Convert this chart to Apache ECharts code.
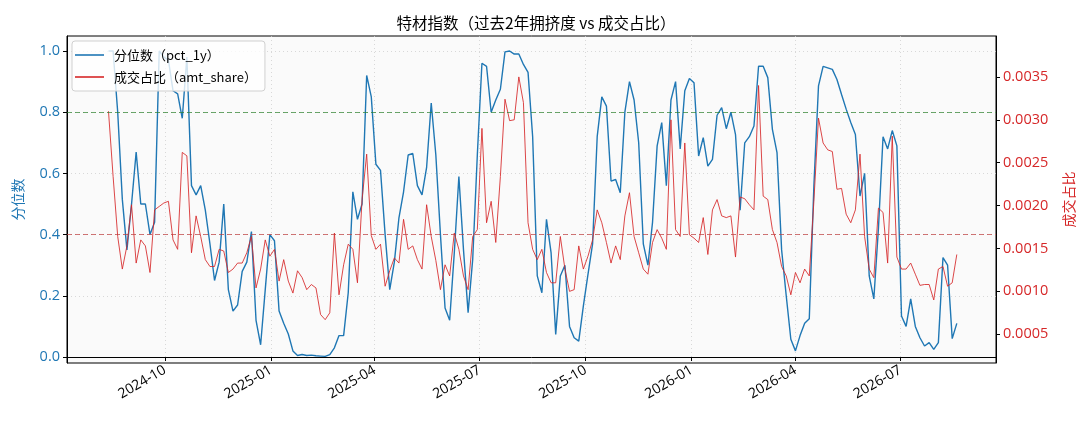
<!DOCTYPE html>
<html>
<head>
<meta charset="utf-8">
<title>特材指数</title>
<script src="https://cdn.jsdelivr.net/npm/echarts@6/dist/echarts.min.js"></script>
<style>
  html, body { margin: 0; padding: 0; background: #fff; }
  #chart { width: 1089px; height: 429px; }
</style>
</head>
<body>
<div id="chart"></div>
<script>
// 采样起点与步长（天）
const startDate = "2024-08-13";
const stepDays = 4;

// 分位数（pct_1y）
const pct1y = [
  1.0, 1.0, 0.80, 0.515, 0.35, 0.50, 0.67, 0.50, 0.50, 0.40,
  0.44, 1.0, 0.98, 0.97, 0.87, 0.86, 0.78, 0.98, 0.56, 0.53,
  0.56, 0.48, 0.37, 0.25, 0.31, 0.50, 0.22, 0.15, 0.17, 0.28,
  0.31, 0.41, 0.12, 0.04, 0.22, 0.40, 0.38, 0.15, 0.11, 0.075,
  0.02, 0.005, 0.008, 0.005, 0.006, 0.004, 0.003, 0.002, 0.008, 0.03,
  0.07, 0.07, 0.21, 0.54, 0.45, 0.50, 0.92, 0.85, 0.63, 0.61,
  0.40, 0.22, 0.31, 0.455, 0.54, 0.66, 0.665, 0.56, 0.53, 0.62,
  0.83, 0.66, 0.40, 0.16, 0.12, 0.34, 0.59, 0.35, 0.145, 0.32,
  0.66, 0.96, 0.95, 0.80, 0.84, 0.875, 0.997, 1.0, 0.99, 0.99,
  0.956, 0.93, 0.72, 0.265, 0.21, 0.45, 0.34, 0.074, 0.265, 0.30,
  0.10, 0.063, 0.052, 0.167, 0.27, 0.37, 0.72, 0.85, 0.82, 0.575,
  0.58, 0.537, 0.80, 0.90, 0.84, 0.70, 0.37, 0.30, 0.44, 0.69,
  0.766, 0.56, 0.84, 0.90, 0.68, 0.87, 0.91, 0.896, 0.657, 0.717,
  0.624, 0.646, 0.79, 0.815, 0.746, 0.80, 0.727, 0.48, 0.70, 0.72,
  0.755, 0.95, 0.95, 0.913, 0.744, 0.668, 0.35, 0.20, 0.058, 0.02,
  0.07, 0.11, 0.125, 0.56, 0.886, 0.95, 0.945, 0.94, 0.907, 0.858,
  0.81, 0.766, 0.727, 0.526, 0.60, 0.265, 0.19, 0.42, 0.72, 0.68,
  0.74, 0.69, 0.134, 0.10, 0.19, 0.10, 0.063, 0.036, 0.047, 0.025,
  0.047, 0.325, 0.30, 0.06, 0.11
];

// 成交占比（amt_share）
const amtShare = [
  0.0031, 0.00234, 0.00164, 0.00126, 0.00153, 0.00201, 0.00133, 0.0016, 0.00153, 0.00122,
  0.00195, 0.00199, 0.00203, 0.00205, 0.0016, 0.00149, 0.00262, 0.00258, 0.00145, 0.00188,
  0.00164, 0.00137, 0.00129, 0.00129, 0.00149, 0.00147, 0.00122, 0.00126, 0.00133, 0.00133,
  0.00145, 0.00164, 0.00104, 0.00126, 0.0016, 0.00141, 0.00149, 0.00112, 0.00137, 0.00112,
  0.00098, 0.00124, 0.00116, 0.00102, 0.00108, 0.00104, 0.00073, 0.00067, 0.00075, 0.00168,
  0.00096, 0.00131, 0.00155, 0.00149, 0.0011, 0.00207, 0.0026, 0.00165, 0.00149, 0.00155,
  0.00106, 0.00124, 0.00139, 0.00133, 0.00184, 0.00149, 0.00153, 0.00137, 0.00126, 0.00201,
  0.00164, 0.00136, 0.00102, 0.00131, 0.00118, 0.00168, 0.00149, 0.00118, 0.00102, 0.00164,
  0.00172, 0.0029, 0.0018, 0.00205, 0.00157, 0.00234, 0.00324, 0.00299, 0.003, 0.0035,
  0.0032, 0.0018, 0.00149, 0.00137, 0.00149, 0.00122, 0.0011, 0.0011, 0.00164, 0.00126,
  0.001, 0.00102, 0.00153, 0.00126, 0.00141, 0.0016, 0.00195, 0.0018, 0.00157, 0.00133,
  0.00153, 0.00137, 0.00188, 0.00215, 0.00164, 0.00145, 0.00126, 0.0012, 0.00157, 0.00172,
  0.00162, 0.00149, 0.003, 0.00172, 0.00164, 0.00273, 0.00166, 0.00162, 0.00157, 0.00186,
  0.00143, 0.00195, 0.00207, 0.00188, 0.00186, 0.00188, 0.0014, 0.0021, 0.00208, 0.00201,
  0.00195, 0.0034, 0.00211, 0.00207, 0.00172, 0.00157, 0.00129, 0.00118, 0.00096, 0.00122,
  0.0011, 0.00126, 0.00118, 0.00205, 0.00302, 0.00273, 0.00265, 0.00263, 0.00219, 0.0022,
  0.0019, 0.0018, 0.00195, 0.0026, 0.00164, 0.00126, 0.00116, 0.00197, 0.00192, 0.00133,
  0.00281, 0.0014, 0.00126, 0.00126, 0.00133, 0.0012, 0.00107, 0.00108, 0.00108, 0.0009,
  0.00126, 0.00129, 0.00106, 0.0011, 0.00143
];

// 刻度
const xTicks = ["2024-10-01", "2025-01-01", "2025-04-01", "2025-07-01", "2025-10-01", "2026-01-01", "2026-04-01", "2026-07-01"];
const leftTicks = [0.0, 0.2, 0.4, 0.6, 0.8, 1.0];
const rightTicks = [0.0005, 0.001, 0.0015, 0.002, 0.0025, 0.003, 0.0035];
const highLine = 0.8;
const lowLine = 0.4;

const DAY = 24 * 3600 * 1000;
const FONT = "Noto Sans CJK SC";
const NUM_FONT = "Open Sans";
const BLUE = "#1f77b4";
const RED = "#d62728";

function toTs(s) {
  const p = s.split("-").map(Number);
  return Date.UTC(p[0], p[1] - 1, p[2]);
}

// 生成日期（时间戳作为数值轴）
const t0 = toTs(startDate);
const dates = pct1y.map((_, i) => t0 + i * stepDays * DAY);
const pctData = pct1y.map((v, i) => [dates[i], v]);
const amtData = amtShare.map((v, i) => [dates[i], v]);
const xTickTs = xTicks.map(toTs);

function fmtMonth(v) {
  const d = new Date(v);
  const m = d.getUTCMonth() + 1;
  return d.getUTCFullYear() + "-" + (m < 10 ? "0" + m : m);
}

const gridLine = { show: true, lineStyle: { color: "#cfcfcf", type: [1, 3], width: 0.8 } };

let chart = echarts.init(document.getElementById("chart"));
let option = {
  animation: false,
  backgroundColor: "#fff",
  textStyle: { fontFamily: FONT },
  title: {
    text: "特材指数（过去2年拥挤度 vs 成交占比）",
    left: 531,
    textAlign: "center",
    top: 10,
    textStyle: { fontFamily: FONT, fontSize: 15.5, fontWeight: "normal", color: "#000" },
  },
  legend: {
    orient: "vertical",
    left: 72,
    top: 41,
    icon: "rect",
    itemWidth: 29,
    itemHeight: 1.6,
    itemGap: 6,
    padding: [6, 8, 6, 3],
    backgroundColor: "rgba(255,255,255,0.8)",
    borderColor: "#d0d0d0",
    borderWidth: 1,
    borderRadius: 3,
    textStyle: { fontFamily: FONT, fontSize: 13, lineHeight: 16, color: "#000", padding: [0, 0, 0, 5] },
    data: ["分位数（pct_1y）", "成交占比（amt_share）"],
  },
  grid: {
    left: 67,
    right: 93,
    top: 36,
    bottom: 66,
    show: true,
    backgroundColor: "#fafafa",
    borderColor: "#000",
    borderWidth: 1,
  },
  xAxis: {
    type: "value",
    min: toTs("2024-07-08"),
    max: toTs("2026-09-22"),
    axisLine: { lineStyle: { color: "#000" } },
    axisTick: { show: true, length: 4, customValues: xTickTs, lineStyle: { color: "#000" } },
    axisLabel: {
      customValues: xTickTs,
      rotate: 30,
      fontFamily: NUM_FONT,
      fontSize: 14,
      color: "#000",
      margin: 6,
      formatter: fmtMonth,
    },
    splitLine: gridLine,
  },
  yAxis: [
    {
      type: "value",
      position: "left",
      min: -0.0196,
      max: 1.049,
      name: "分位数",
      nameLocation: "middle",
      nameRotate: 90,
      nameGap: 42,
      nameTextStyle: { color: BLUE, fontFamily: FONT, fontSize: 14 },
      axisLine: { show: true, lineStyle: { color: "#000" } },
      axisTick: { show: true, length: 4, customValues: leftTicks, lineStyle: { color: "#000" } },
      axisLabel: {
        customValues: leftTicks,
        color: BLUE,
        fontFamily: NUM_FONT,
        fontSize: 14.5,
        margin: 7,
        formatter: (v) => v.toFixed(1),
      },
      splitLine: gridLine,
    },
    {
      type: "value",
      position: "right",
      min: 0.000165,
      max: 0.003977,
      name: "成交占比",
      nameLocation: "middle",
      nameRotate: 90,
      nameGap: 66,
      nameTextStyle: { color: RED, fontFamily: FONT, fontSize: 14 },
      axisLine: { show: true, lineStyle: { color: "#000" } },
      axisTick: { show: true, length: 4, customValues: rightTicks, lineStyle: { color: "#000" } },
      axisLabel: {
        customValues: rightTicks,
        color: RED,
        fontFamily: NUM_FONT,
        fontSize: 14.5,
        margin: 7,
        formatter: (v) => v.toFixed(4),
      },
      splitLine: { show: false },
    },
  ],
  series: [
    {
      name: "分位数（pct_1y）",
      type: "line",
      yAxisIndex: 0,
      data: pctData,
      symbol: "none",
      z: 3,
      lineStyle: { color: BLUE, width: 1.4 },
      itemStyle: { color: BLUE },
      markLine: {
        silent: true,
        symbol: "none",
        label: { show: false },
        data: [
          { yAxis: highLine, lineStyle: { color: "rgba(44,130,44,0.7)", type: [5, 3], width: 1 } },
          { yAxis: lowLine, lineStyle: { color: "rgba(190,60,60,0.7)", type: [5, 3], width: 1 } },
        ],
      },
    },
    {
      name: "成交占比（amt_share）",
      type: "line",
      yAxisIndex: 1,
      data: amtData,
      symbol: "none",
      z: 4,
      lineStyle: { color: "rgba(214,39,40,0.85)", width: 1 },
      itemStyle: { color: RED },
    },
  ],
};
chart.setOption(option);
</script>
</body>
</html>
